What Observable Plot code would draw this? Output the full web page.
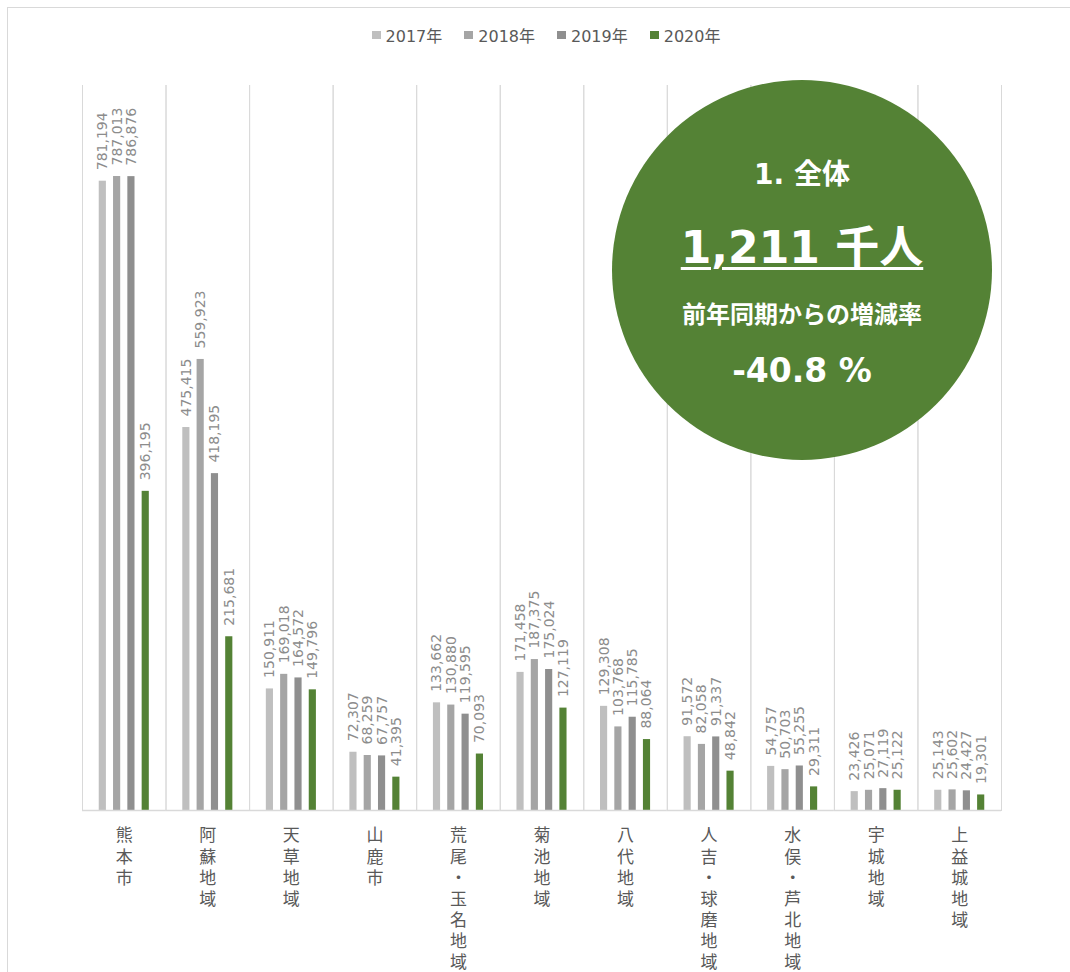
<!DOCTYPE html>
<html>
<head>
<meta charset="utf-8">
<script src="https://cdn.jsdelivr.net/npm/d3@7"></script>
<script src="https://cdn.jsdelivr.net/npm/@observablehq/plot@0.6"></script>
<style>
  html, body { margin: 0; padding: 0; background: #fff; overflow: hidden; width: 1070px; height: 972px; }
  #wrap { position: relative; width: 1070px; height: 972px; }
  #border { position: absolute; left: 7px; top: 7px; width: 1200px; height: 1100px; border: 1px solid #d9d9d9; box-sizing: border-box; pointer-events: none; }
  #legend { position: relative; height: 70px; display: flex; justify-content: center; align-items: center; padding-left: 22px; box-sizing: border-box; width: 1070px; font-family: "DejaVu Sans", "Noto Sans CJK JP", sans-serif; font-size: 16px; color: #595959; }
  .item { display: flex; align-items: center; margin: 0 11px; }
  .sw { width: 9px; height: 8px; margin-right: 5px; }
  #circle { position: absolute; left: 612px; top: 80px; width: 380px; height: 380px; border-radius: 50%; background: #548235; color: #fff; font-family: "DejaVu Sans", "Noto Sans CJK JP", sans-serif; font-weight: bold; }
  .cl { position: absolute; left: 0; width: 380px; text-align: center; white-space: nowrap; transform: translateY(-50%); }
</style>
</head>
<body>
<div id="wrap">
  <div id="legend"></div>
  <div id="chart"></div>
  <div id="circle">
    <div class="cl" style="top:92px;font-size:28px;">1. 全体</div>
    <div class="cl" style="top:164px;font-size:44px;"><span style="text-decoration:underline;text-decoration-thickness:3px;text-underline-offset:4px;">1,211 千人</span></div>
    <div class="cl" style="top:232px;font-size:24px;">前年同期からの増減率</div>
    <div class="cl" style="top:290px;font-size:33px;">-40.8 %</div>
  </div>
  <div id="border"></div>
</div>
<script>
const categories = ["熊本市","阿蘇地域","天草地域","山鹿市","荒尾・玉名地域","菊池地域","八代地域","人吉・球磨地域","水俣・芦北地域","宇城地域","上益城地域"];
const years = ["2017年","2018年","2019年","2020年"];
const v2017 = [781194, 475415, 150911, 72307, 133662, 171458, 129308, 91572, 54757, 23426, 25143];
const v2018 = [787013, 559923, 169018, 68259, 130880, 187375, 103768, 82058, 50703, 25071, 25602];
const v2019 = [786876, 418195, 164572, 67757, 119595, 175024, 115785, 91337, 55255, 27119, 24427];
const v2020 = [396195, 215681, 149796, 41395, 70093, 127119, 88064, 48842, 29311, 25122, 19301];
const colors = ["#bfbfbf", "#a5a5a5", "#8f8f8f", "#548235"];

const series = [v2017, v2018, v2019, v2020];
const data = categories.flatMap((c, i) => years.map((y, j) => ({cat: c, year: y, value: series[j][i]})));

// legend
const legend = document.getElementById("legend");
years.forEach((y, j) => {
  const it = document.createElement("div");
  it.className = "item";
  const sw = document.createElement("div");
  sw.className = "sw";
  sw.style.background = colors[j];
  const t = document.createElement("span");
  t.textContent = y;
  it.appendChild(sw); it.appendChild(t);
  legend.appendChild(it);
});

const fmt = d3.format(",");
const chart = Plot.plot({
  width: 1070,
  height: 902,
  marginTop: 15,
  marginBottom: 162,
  marginLeft: 82,
  marginRight: 69,
  style: {fontFamily: "'DejaVu Sans', 'Noto Sans CJK JP', sans-serif", background: "white"},
  fx: {domain: categories, padding: 0, round: false, label: null},
  x: {domain: years, paddingInner: 0.5, paddingOuter: 1.17, round: false, axis: null},
  y: {domain: [0, 900000], axis: null},
  color: {domain: years, range: colors},
  marks: [
    Plot.frame({anchor: "left", stroke: "#d9d9d9"}),
    Plot.frame({anchor: "right", stroke: "#d9d9d9"}),
    Plot.barY(data, {fx: "cat", x: "year", y: "value", fill: "year"}),
    Plot.ruleY([0], {stroke: "#d9d9d9", strokeWidth: 1.5}),
    Plot.text(data, {fx: "cat", x: "year", y: "value", text: d => fmt(d.value), rotate: -90, textAnchor: "start", dy: -11, fontSize: 14, fill: "#8c8c8c"}),
    Plot.axisFx({anchor: "bottom", tickFormat: d => [...d].join("\n"), tickSize: 0, tickPadding: 16, fontSize: 17, lineHeight: 1.24, fill: "#595959", label: null, fontFamily: "'Noto Sans CJK JP', sans-serif"})
  ]
});
document.getElementById("chart").appendChild(chart);
</script>
</body>
</html>
